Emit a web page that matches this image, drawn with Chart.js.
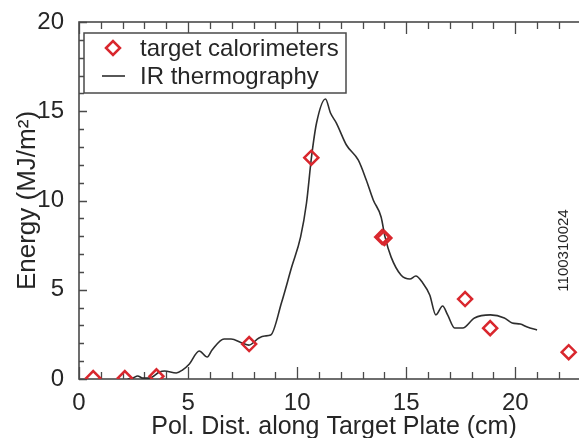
<!DOCTYPE html>
<html>
<head>
<meta charset="utf-8">
<script src="https://cdn.jsdelivr.net/npm/chart.js@4.4.1/dist/chart.umd.min.js"></script>
<style>
  html, body { margin: 0; padding: 0; background: #fff; overflow: hidden; }
  canvas { display: block; }
</style>
</head>
<body>
<canvas id="energyChart" width="612" height="438"></canvas>
<script>
// target calorimeter points (cm, MJ/m2)
const caloX = [0.65, 2.1, 3.55, 7.8, 10.65, 13.9, 14.0, 17.7, 18.85, 22.45];
const caloY = [0.05, 0.05, 0.15, 1.96, 12.4, 7.95, 7.9, 4.48, 2.85, 1.5];

// IR thermography profile
const irX = [2.23, 2.46, 2.69, 2.92, 3.23, 3.69, 3.92, 4.46, 4.74, 5.06, 5.51, 5.88, 6.10, 6.65, 6.97,
  7.47, 7.79, 8.25, 8.52, 8.79, 9.29, 9.75, 10.16, 10.43, 10.66, 10.89, 11.30, 11.53, 11.80,
  12.26, 12.80, 13.17, 13.49, 13.85, 14.03, 14.31, 14.76, 15.17, 15.44, 15.76, 16.08, 16.36, 16.67,
  16.90, 17.22, 17.59, 18.13, 18.86, 19.50, 19.86, 20.23, 20.55, 21.00];
const irY = [0.0, 0.05, 0.17, 0.05, 0.05, 0.39, 0.45, 0.34, 0.50, 0.84, 1.57, 1.23, 1.62, 2.24, 2.24,
  2.02, 1.90, 2.30, 2.41, 2.46, 4.30, 6.27, 7.96, 9.86, 12.44, 14.34, 15.69, 14.90, 14.34,
  13.11, 12.27, 11.15, 10.03, 9.08, 7.96, 6.83, 5.83, 5.60, 5.77, 5.38, 4.71, 3.59, 4.09,
  3.59, 2.86, 2.86, 3.42, 3.59, 3.42, 3.14, 3.08, 2.91, 2.75];

const xTicks = [0, 5, 10, 15, 20];
const yTicks = [0, 5, 10, 15, 20];
const xTitle = 'Pol. Dist. along Target Plate (cm)';
const shotLabel = '1100310024';

const textColor = '#262626';
const frameColor = '#4a4a4a';
const redColor = '#d9272e';
const fontFamily = '"Liberation Sans", Arial, sans-serif';

function toPoints(xs, ys) {
  return xs.map((x, i) => ({ x: x, y: ys[i] }));
}

// frame with inward ticks, like the original plot
const frameTicks = {
  id: 'frameTicks',
  beforeDatasetsDraw(chart) {
    const { ctx, chartArea: a, scales } = chart;
    ctx.save();
    ctx.strokeStyle = frameColor;
    ctx.lineWidth = 1.3;
    for (let v = scales.x.min; v <= scales.x.max; v++) {
      const px = Math.round(scales.x.getPixelForValue(v)) + 0.5;
      const len = v % 5 === 0 ? 12 : 7;
      ctx.beginPath();
      ctx.moveTo(px, a.bottom); ctx.lineTo(px, a.bottom - len);
      ctx.moveTo(px, a.top); ctx.lineTo(px, a.top + len);
      ctx.stroke();
    }
    for (let v = scales.y.min; v <= scales.y.max; v++) {
      const py = Math.round(scales.y.getPixelForValue(v)) + 0.5;
      const len = v % 5 === 0 ? 8 : 5;
      ctx.beginPath();
      ctx.moveTo(a.left, py); ctx.lineTo(a.left + len, py);
      ctx.moveTo(a.right, py); ctx.lineTo(a.right - len, py);
      ctx.stroke();
    }
    ctx.lineWidth = 1.6;
    ctx.strokeRect(a.left, a.top, a.right - a.left, a.bottom - a.top);
    ctx.restore();
  },
  afterDraw(chart) {
    const { ctx, scales } = chart;
    const ds = chart.data.datasets;
    ctx.save();
    // legend box
    ctx.fillStyle = '#fff';
    ctx.fillRect(84, 33, 262, 60);
    ctx.strokeStyle = frameColor;
    ctx.lineWidth = 1.5;
    ctx.strokeRect(84, 33, 262, 60);
    // diamond sample
    ctx.strokeStyle = ds[0].borderColor;
    ctx.lineWidth = ds[0].borderWidth;
    ctx.beginPath();
    ctx.moveTo(113 - 7, 48); ctx.lineTo(113, 41); ctx.lineTo(113 + 7, 48); ctx.lineTo(113, 55);
    ctx.closePath();
    ctx.stroke();
    // line sample
    ctx.strokeStyle = ds[1].borderColor;
    ctx.lineWidth = ds[1].borderWidth;
    ctx.beginPath();
    ctx.moveTo(102, 76); ctx.lineTo(125, 76);
    ctx.stroke();
    ctx.fillStyle = textColor;
    ctx.font = '24px ' + fontFamily;
    ctx.textBaseline = 'alphabetic';
    ctx.fillText(ds[0].label, 140, 56);
    ctx.fillText(ds[1].label, 140, 84);
    // x axis title (the plot is cropped on the right, so centre it on the visible part)
    ctx.font = '25px ' + fontFamily;
    ctx.textAlign = 'center';
    ctx.fillText(xTitle, 334, 434);
    // shot number
    const sx = scales.x.getPixelForValue(22.22);
    const sy = scales.y.getPixelForValue(7.2);
    ctx.translate(sx, sy);
    ctx.rotate(-Math.PI / 2);
    ctx.font = '15px ' + fontFamily;
    ctx.textBaseline = 'middle';
    ctx.fillText(shotLabel, 0, 0);
    ctx.restore();
  }
};

const ctx = document.getElementById('energyChart').getContext('2d');
const energyChart = new Chart(ctx, {
  type: 'scatter',
  data: {
    datasets: [
      {
        label: 'target calorimeters',
        data: toPoints(caloX, caloY),
        pointStyle: 'rectRot',
        pointRadius: 7,
        pointHoverRadius: 7,
        borderColor: redColor,
        backgroundColor: 'rgba(0,0,0,0)',
        borderWidth: 2.5,
        showLine: false,
        clip: 0
      },
      {
        label: 'IR thermography',
        data: toPoints(irX, irY),
        showLine: true,
        pointRadius: 0,
        borderColor: '#2e2e2e',
        borderWidth: 1.6,
        cubicInterpolationMode: 'monotone',
        fill: false
      }
    ]
  },
  options: {
    responsive: false,
    animation: false,
    devicePixelRatio: 1,
    layout: { padding: { left: 0, top: 22, right: 6, bottom: 0 } },
    plugins: {
      legend: { display: false },
      tooltip: { enabled: false }
    },
    scales: {
      x: {
        type: 'linear',
        min: 0,
        max: 24,
        afterFit: (scale) => { scale.height = 59; },
        afterBuildTicks: (scale) => { scale.ticks = xTicks.map(v => ({ value: v })); },
        grid: { display: false },
        border: { display: false },
        ticks: {
          color: textColor,
          padding: 2,
          maxRotation: 0,
          font: { family: fontFamily, size: 24 }
        }
      },
      y: {
        type: 'linear',
        min: 0,
        max: 20,
        afterFit: (scale) => { scale.width = 79; },
        afterBuildTicks: (scale) => { scale.ticks = yTicks.map(v => ({ value: v })); },
        grid: { display: false },
        border: { display: false },
        ticks: {
          color: textColor,
          padding: 7,
          font: { family: fontFamily, size: 24 }
        },
        title: {
          display: true,
          text: 'Energy (MJ/m²)',
          color: textColor,
          padding: { top: 15, bottom: 0 },
          font: { family: fontFamily, size: 26, lineHeight: 1 }
        }
      }
    }
  },
  plugins: [frameTicks]
});
</script>
</body>
</html>
